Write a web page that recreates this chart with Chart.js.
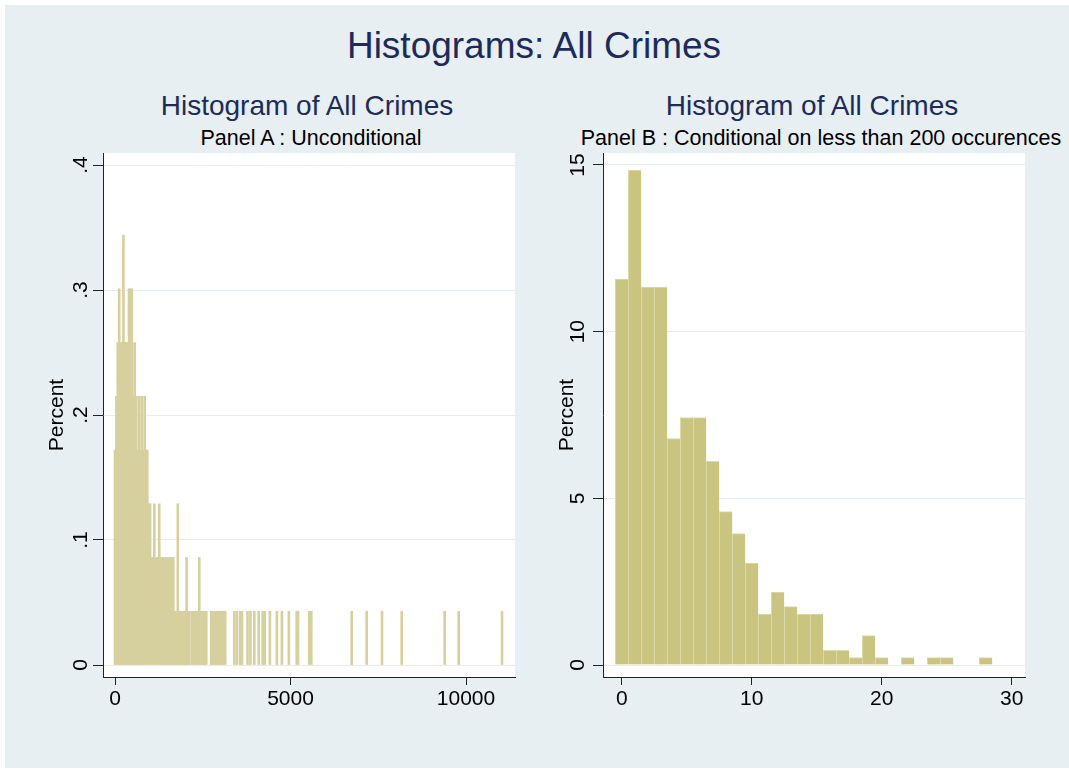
<!DOCTYPE html>
<html>
<head>
<meta charset="utf-8">
<title>Histograms: All Crimes</title>
<script src="https://cdn.jsdelivr.net/npm/chart.js@4.4.1/dist/chart.umd.min.js"></script>
<style>
  html, body { margin: 0; padding: 0; background: #fff; }
  #page { position: relative; width: 1069px; height: 771px; overflow: hidden; font-family: "Liberation Sans", Arial, sans-serif; }
  #bg { position: absolute; left: 5px; top: 5px; width: 1064px; height: 763px; background: #e8eff2; }
  .t { position: absolute; white-space: nowrap; text-align: center; line-height: 1; width: 600px; }
  canvas { position: absolute; }
</style>
</head>
<body>
<div id="page">
  <div id="bg"></div>
  <div class="t" style="left:234px;top:27px;font-size:37px;color:#1c2b5a;">Histograms: All Crimes</div>
  <div class="t" style="left:7px;top:92px;font-size:28px;color:#1c2b5a;">Histogram of All Crimes</div>
  <div class="t" style="left:512px;top:92px;font-size:28px;color:#1c2b5a;">Histogram of All Crimes</div>
  <div class="t" style="left:11px;top:128px;font-size:21.5px;color:#000;">Panel A : Unconditional</div>
  <div class="t" style="left:521px;top:128px;font-size:21.5px;color:#000;">Panel B : Conditional on less than 200 occurences</div>
  <canvas id="histA" width="534" height="626" style="left:0;top:145px"></canvas>
  <canvas id="histB" width="535" height="626" style="left:534px;top:145px"></canvas>
</div>
<script>
// Panel A: number of crimes (spike positions) and percent of observations
var crimeCounts = [0, 40, 80, 120, 160, 200, 240, 280, 320, 360, 400, 440, 480, 520, 560, 600, 640, 680, 720, 760,
  800, 845, 880, 920, 960, 1000, 1040, 1080, 1120, 1160, 1200, 1260, 1300, 1340, 1380, 1420, 1460, 1500, 1540, 1580,
  1620, 1660, 1700, 1740, 1790, 1840, 1880, 1920, 1960, 2000, 2040, 2080, 2120, 2200, 2240, 2280, 2320, 2360, 2400, 2440,
  2480, 2520, 2560, 2600, 2740, 2780, 2820, 2860, 2900, 2940, 2980, 3020, 3060, 3100, 3140,
  3399, 3476, 3570, 3618, 3775, 3860, 3969, 4094, 4208, 4265, 4413, 4612, 4755, 4954, 5177, 5214, 5536, 5593,
  6744, 7171, 7607, 8168, 9393, 9792, 11026];
var crimePct = [.172, .215, .258, .301, .258, .258, .344, .258, .258, .258, .301, .301, .301, .215, .258, .215, .172, .215, .172, .215,
  .172, .215, .172, .172, .129, .129, .086, .086, .129, .086, .086, .129, .086, .086, .086, .086, .086, .086, .086, .086,
  .086, .086, .043, .043, .129, .043, .043, .043, .043, .043, .086, .043, .043, .043, .043, .043, .043, .043, .086, .043,
  .043, .043, .043, .043, .043, .043, .043, .043, .043, .043, .043, .043, .043, .043, .043,
  .043, .043, .043, .043, .043, .043, .043, .043, .043, .043, .043, .043, .043, .043, .043, .043, .043, .043,
  .043, .043, .043, .043, .043, .043, .043];
var xTicksA = [0, 5000, 10000];
var yTicksA = [0, .1, .2, .3, .4];

// Panel B: crimes below 200, unit-width bins
var binCenters = [0, 1, 2, 3, 4, 5, 6, 7, 8, 9, 10, 11, 12, 13, 14, 15, 16, 17, 18, 19, 20, 22, 24, 25, 28];
var binPct = [11.58, 14.85, 11.34, 11.34, 6.79, 7.42, 7.42, 6.11, 4.60, 3.94, 3.06, 1.53, 2.19, 1.75, 1.53, 1.53,
  0.44, 0.44, 0.22, 0.88, 0.22, 0.22, 0.22, 0.22, 0.22];
var xTicksB = [0, 10, 20, 30];
var yTicksB = [0, 5, 10, 15];

Chart.defaults.font.family = '"Liberation Sans", Arial, sans-serif';
Chart.defaults.color = '#000';

function stataLabel(v) {
  return v === 0 ? '0' : String(v).replace(/^0\./, '.');
}

var plotRegion = {
  id: 'plotRegion',
  beforeDraw: function(chart) {
    var a = chart.chartArea, ctx = chart.ctx;
    ctx.save();
    ctx.fillStyle = '#fff';
    ctx.fillRect(a.left, a.top, a.right - a.left, a.bottom - a.top);
    ctx.restore();
  }
};

function pairs(xs, ys) {
  var out = [];
  for (var i = 0; i < xs.length; i++) out.push({x: xs[i], y: ys[i]});
  return out;
}

function axes(xr, yr, xt, yt, yWidth, titlePad, tickPad) {
  return {
    x: {
      type: 'linear', min: xr[0], max: xr[1], offset: false,
      afterBuildTicks: function(s) { s.ticks = xt.map(function(v) { return {value: v}; }); },
      afterFit: function(s) { s.height = 94; s.paddingLeft = 0; s.paddingRight = 0; },
      grid: { drawOnChartArea: false, offset: false, tickLength: 8, tickColor: '#222' },
      border: { color: '#222' },
      ticks: { padding: 2, autoSkip: false, maxRotation: 0, font: { size: 21 }, callback: stataLabel }
    },
    y: {
      type: 'linear', min: yr[0], max: yr[1],
      afterBuildTicks: function(s) { s.ticks = yt.map(function(v) { return {value: v}; }); },
      afterFit: function(s) { s.width = yWidth; s.paddingTop = 0; s.paddingBottom = 0; },
      grid: { color: '#e4ecf0', tickLength: 10, tickColor: '#222' },
      border: { color: '#222' },
      ticks: { padding: tickPad, autoSkip: false, minRotation: 90, maxRotation: 90, crossAlign: 'center',
        font: { size: 21 }, callback: stataLabel },
      title: { display: true, text: 'Percent', font: { size: 21 }, padding: { top: titlePad } }
    }
  };
}

new Chart(document.getElementById('histA'), {
  type: 'bar',
  data: {
    datasets: [{
      label: 'All Crimes',
      data: pairs(crimeCounts, crimePct),
      backgroundColor: '#d6d09f',
      borderWidth: 0,
      barThickness: 2
    }]
  },
  options: {
    responsive: false,
    animation: false,
    layout: { autoPadding: false, padding: { left: 0, top: 8, right: 19, bottom: 0 } },
    plugins: { legend: { display: false }, tooltip: { enabled: false } },
    scales: axes([-342, 11396], [-0.0096, 0.4096], xTicksA, yTicksA, 103, 45, 3)
  },
  plugins: [plotRegion]
});

new Chart(document.getElementById('histB'), {
  type: 'bar',
  data: {
    datasets: [{
      label: 'All Crimes < 200',
      data: pairs(binCenters, binPct),
      backgroundColor: '#c9c47f',
      borderColor: '#dedbad',
      borderWidth: { top: 1, left: 1, right: 0, bottom: 0 },
      borderSkipped: false,
      barPercentage: 1,
      categoryPercentage: 1
    }]
  },
  options: {
    responsive: false,
    animation: false,
    layout: { autoPadding: false, padding: { left: 0, top: 8, right: 44, bottom: 0 } },
    plugins: { legend: { display: false }, tooltip: { enabled: false } },
    scales: axes([-1.44, 31.02], [-0.36, 15.36], xTicksB, yTicksB, 69, 21, 3)
  },
  plugins: [plotRegion]
});
</script>
</body>
</html>
